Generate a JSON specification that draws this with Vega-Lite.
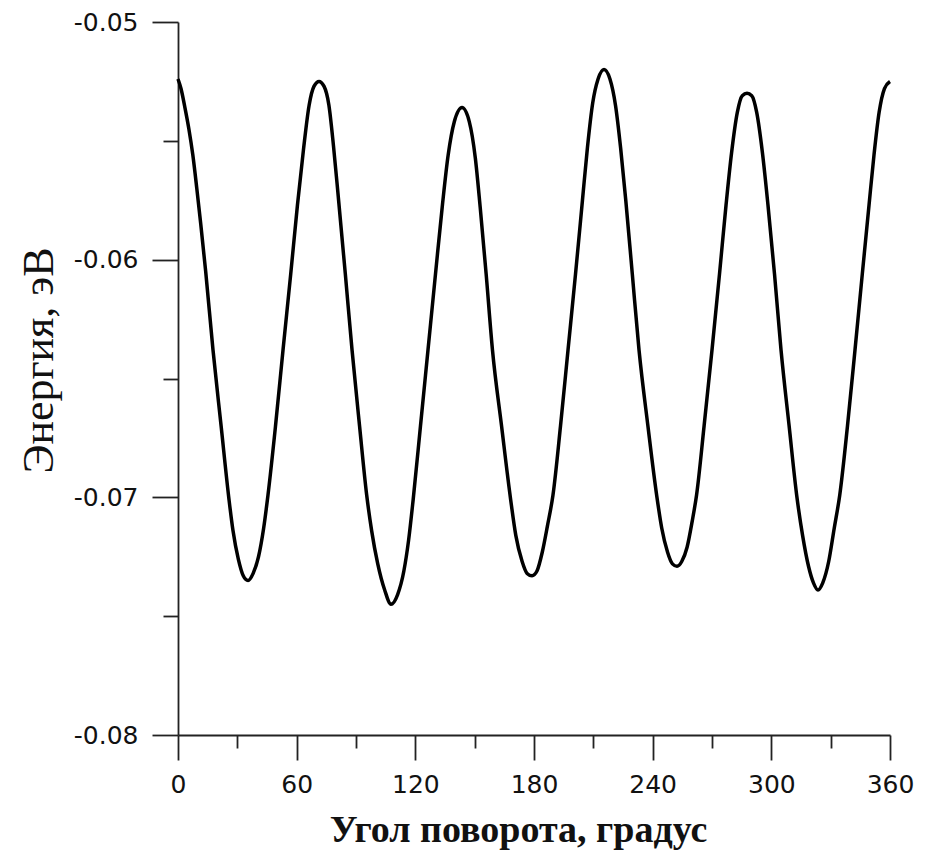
{
  "$schema": "https://vega.github.io/schema/vega-lite/v6.json",
  "width": 712,
  "height": 713,
  "autosize": "none",
  "padding": {"left": 178, "top": 22, "right": 40, "bottom": 115},
  "background": "white",
  "config": {
    "view": {"stroke": null},
    "axis": {"grid": false, "domainColor": "#222222", "domainWidth": 1.8, "tickColor": "#222222", "tickWidth": 1.8, "labelColor": "#111111", "titleColor": "#111111"}
  },
  "data": {"values": [
    {"angle": 0, "energy": -0.0524},
    {"angle": 1.5, "energy": -0.0528},
    {"angle": 3.5, "energy": -0.0536},
    {"angle": 5.5, "energy": -0.0545},
    {"angle": 7.5, "energy": -0.0556},
    {"angle": 9.5, "energy": -0.057},
    {"angle": 11.5, "energy": -0.0585},
    {"angle": 14, "energy": -0.0605},
    {"angle": 17.7, "energy": -0.0638},
    {"angle": 21.8, "energy": -0.067},
    {"angle": 25.8, "energy": -0.0701},
    {"angle": 27.8, "energy": -0.0714},
    {"angle": 30.5, "energy": -0.0726},
    {"angle": 33, "energy": -0.0733},
    {"angle": 35.4, "energy": -0.0735},
    {"angle": 38, "energy": -0.0732},
    {"angle": 40.7, "energy": -0.0725},
    {"angle": 43.3, "energy": -0.0713},
    {"angle": 45.5, "energy": -0.0699},
    {"angle": 49.3, "energy": -0.067},
    {"angle": 53.1, "energy": -0.0638},
    {"angle": 57, "energy": -0.0606},
    {"angle": 60.4, "energy": -0.0577},
    {"angle": 63.4, "energy": -0.0554},
    {"angle": 66.3, "energy": -0.0535},
    {"angle": 68.8, "energy": -0.0527},
    {"angle": 71.3, "energy": -0.0525},
    {"angle": 73.8, "energy": -0.0527},
    {"angle": 76.3, "energy": -0.0535},
    {"angle": 78.6, "energy": -0.0552},
    {"angle": 81.2, "energy": -0.0575},
    {"angle": 84.6, "energy": -0.0606},
    {"angle": 88, "energy": -0.0638},
    {"angle": 91.8, "energy": -0.067},
    {"angle": 95.4, "energy": -0.0699},
    {"angle": 97.9, "energy": -0.0714},
    {"angle": 101, "energy": -0.0728},
    {"angle": 104.5, "energy": -0.0739},
    {"angle": 107.7, "energy": -0.0745},
    {"angle": 111, "energy": -0.0741},
    {"angle": 114.2, "energy": -0.0731},
    {"angle": 116.6, "energy": -0.0718},
    {"angle": 118.9, "energy": -0.0701},
    {"angle": 122.6, "energy": -0.067},
    {"angle": 126.4, "energy": -0.0638},
    {"angle": 130.2, "energy": -0.0606},
    {"angle": 133.7, "energy": -0.0577},
    {"angle": 136.6, "energy": -0.0556},
    {"angle": 139.7, "energy": -0.0542},
    {"angle": 143.6, "energy": -0.0536},
    {"angle": 147.3, "energy": -0.0542},
    {"angle": 150.3, "energy": -0.0557},
    {"angle": 152.8, "energy": -0.0578},
    {"angle": 155.8, "energy": -0.0606},
    {"angle": 159, "energy": -0.0638},
    {"angle": 163.6, "energy": -0.067},
    {"angle": 168.2, "energy": -0.0701},
    {"angle": 170.8, "energy": -0.0716},
    {"angle": 174, "energy": -0.0727},
    {"angle": 176.5, "energy": -0.0732},
    {"angle": 179, "energy": -0.0733},
    {"angle": 181.5, "energy": -0.0731},
    {"angle": 184.2, "energy": -0.0723},
    {"angle": 186.8, "energy": -0.0712},
    {"angle": 189.6, "energy": -0.0699},
    {"angle": 193.4, "energy": -0.067},
    {"angle": 197.2, "energy": -0.0638},
    {"angle": 201, "energy": -0.0606},
    {"angle": 204.5, "energy": -0.0575},
    {"angle": 207, "energy": -0.0553},
    {"angle": 209.7, "energy": -0.0534},
    {"angle": 212.4, "energy": -0.0524},
    {"angle": 215.4, "energy": -0.052},
    {"angle": 218.4, "energy": -0.0524},
    {"angle": 221.2, "energy": -0.0535},
    {"angle": 223.8, "energy": -0.0553},
    {"angle": 226.4, "energy": -0.0575},
    {"angle": 229.7, "energy": -0.0606},
    {"angle": 233.1, "energy": -0.0638},
    {"angle": 237.6, "energy": -0.067},
    {"angle": 242, "energy": -0.0699},
    {"angle": 244.6, "energy": -0.0713},
    {"angle": 247.5, "energy": -0.0723},
    {"angle": 250, "energy": -0.0728},
    {"angle": 252.3, "energy": -0.0729},
    {"angle": 254.7, "energy": -0.0727},
    {"angle": 257.4, "energy": -0.0721},
    {"angle": 260, "energy": -0.071},
    {"angle": 262.2, "energy": -0.0699},
    {"angle": 266, "energy": -0.067},
    {"angle": 270, "energy": -0.0638},
    {"angle": 273.8, "energy": -0.0606},
    {"angle": 277.1, "energy": -0.0577},
    {"angle": 279.9, "energy": -0.0555},
    {"angle": 282.8, "energy": -0.0538},
    {"angle": 285.3, "energy": -0.0531},
    {"angle": 287.7, "energy": -0.053},
    {"angle": 290.1, "energy": -0.0531},
    {"angle": 292.6, "energy": -0.0538},
    {"angle": 295.5, "energy": -0.0555},
    {"angle": 298.3, "energy": -0.0577},
    {"angle": 301.6, "energy": -0.0606},
    {"angle": 304.9, "energy": -0.0638},
    {"angle": 309, "energy": -0.067},
    {"angle": 312.8, "energy": -0.0699},
    {"angle": 315.8, "energy": -0.0716},
    {"angle": 318.8, "energy": -0.0729},
    {"angle": 321.3, "energy": -0.0736},
    {"angle": 323.6, "energy": -0.0739},
    {"angle": 326, "energy": -0.0736},
    {"angle": 329, "energy": -0.0727},
    {"angle": 331.8, "energy": -0.0713},
    {"angle": 334.6, "energy": -0.0699},
    {"angle": 338.5, "energy": -0.067},
    {"angle": 342.3, "energy": -0.0638},
    {"angle": 346, "energy": -0.0606},
    {"angle": 349.4, "energy": -0.0577},
    {"angle": 351.9, "energy": -0.0556},
    {"angle": 354.5, "energy": -0.0538},
    {"angle": 357.2, "energy": -0.0528},
    {"angle": 360, "energy": -0.0525}
  ]},
  "layer": [
    {
      "mark": {"type": "line", "color": "black", "strokeWidth": 3.5, "interpolate": "monotone"},
      "encoding": {
        "x": {"field": "angle", "type": "quantitative",
          "scale": {"domain": [0, 360], "nice": false, "zero": false},
          "axis": {"orient": "bottom", "values": [0, 60, 120, 180, 240, 300, 360], "format": "d", "tickSize": 25,
            "labelFont": "DejaVu Sans", "labelFontSize": 25, "labelPadding": 12, "labelFlush": false, "labelOverlap": false,
            "title": "Угол поворота, градус", "titleFont": "Liberation Serif", "titleFontSize": 38, "titleFontWeight": "bold",
            "titleX": 340, "titleY": 106, "titleBaseline": "alphabetic", "titleAlign": "center", "titleAnchor": null}},
        "y": {"field": "energy", "type": "quantitative",
          "scale": {"domain": [-0.08, -0.05], "nice": false, "zero": false},
          "axis": {"orient": "left", "values": [-0.08, -0.07, -0.06, -0.05], "tickSize": 26,
            "labelExpr": "replace(format(datum.value, '.2f'), '\u2212', '-')",
            "labelFont": "DejaVu Sans", "labelFontSize": 25, "labelPadding": 14, "labelFlush": false, "labelOverlap": false,
            "title": "Энергия, эВ", "titleFont": "Liberation Serif", "titleFontSize": 44, "titleFontWeight": "normal",
            "titleAngle": 270, "titleX": -126, "titleY": 338, "titleBaseline": "alphabetic", "titleAlign": "center"}}
      }
    },
    {
      "mark": {"type": "line", "opacity": 0},
      "encoding": {
        "x": {"field": "angle", "type": "quantitative",
          "axis": {"orient": "bottom", "values": [30, 90, 150, 210, 270, 330], "tickSize": 13, "labels": false, "domain": false, "title": null}},
        "y": {"field": "energy", "type": "quantitative",
          "axis": {"orient": "left", "values": [-0.075, -0.065, -0.055], "tickSize": 15, "labels": false, "domain": false, "title": null}}
      }
    }
  ],
  "resolve": {"axis": {"x": "independent", "y": "independent"}}
}
